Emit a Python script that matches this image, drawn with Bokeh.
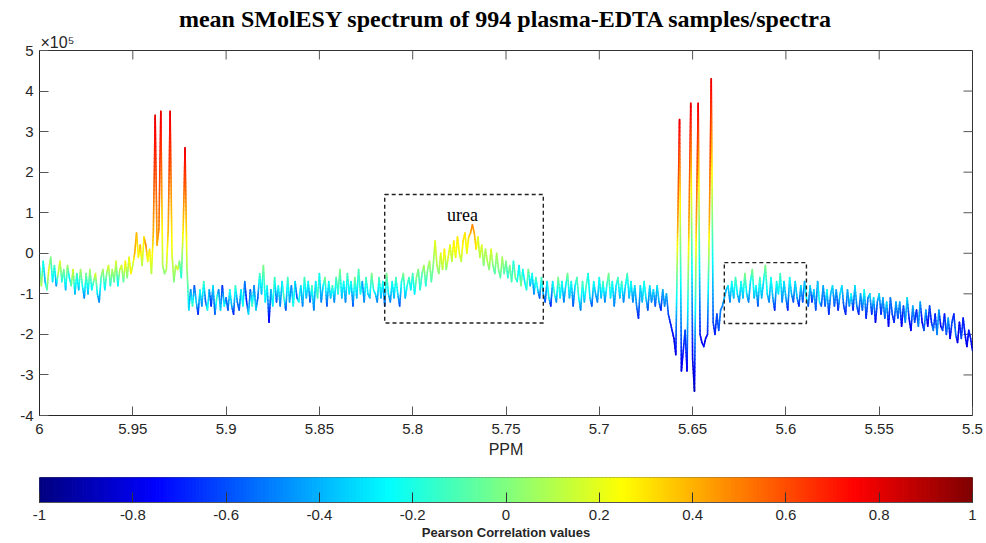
import numpy as np
from bokeh.plotting import figure
from bokeh.models import Range1d, LinearAxis, FixedTicker, Label, ColumnDataSource, Title
from bokeh.layouts import column
from bokeh.embed import file_html
from bokeh.resources import INLINE

# ---------------- data ----------------
ppm_start = 6.0
ppm_step = 0.001   # spectrum sampled every 0.001 ppm from 6.0 down to 5.5

# mean spectrum intensity, in units of 1e4
intensity_1e4 = [
    -3, -8, -2, -7, -9, -4, -1, -7, -3, -8, -5, -2, -7, -4, -9, -3, -6, -8, -4, -10,
    -5, -9, -4, -8, -11, -5, -10, -4, -9, -7, -5, -10, -12, -6, -4, -9, -5, -3, -8, -4,
    -7, -2, -8, -4, -3, -7, -2, -6, -1, -5, -3, 0, 5, -1, 2, -3, 4, 2, -2, 1,
    -5, 5, 34, 2, 6, 35, -3, -5, -4, 6, 35, 0, -7, -3, -4, -2, -6, 6, 26, -3,
    -14, -9, -13, -8, -12, -15, -9, -13, -7, -12, -14, -9, -13, -8, -15, -11, -9, -14, -8, -13,
    -11, -14, -9, -13, -15, -8, -12, -14, -9, -13, -7, -12, -15, -9, -13, -8, -14, -11, -5, -10,
    -3, -12, -8, -17, -9, -13, -6, -12, -8, -13, -7, -11, -14, -6, -12, -8, -13, -7, -11, -12,
    -8, -13, -6, -11, -7, -12, -8, -14, -7, -11, -5, -12, -8, -6, -13, -7, -11, -8, -12, -6,
    -10, -4, -11, -7, -12, -5, -10, -7, -13, -6, -11, -4, -10, -7, -12, -6, -10, -11, -5, -9,
    -10, -12, -6, -11, -7, -13, -5, -10, -12, -7, -11, -6, -10, -13, -7, -5, -11, -8, -6, -9,
    -5, -10, -6, -4, -9, -5, -3, -8, -4, -2, -7, -3, 3, -3, -5, 0, -4, 1, -4, -1,
    2, -2, 3, -1, 4, 0, -2, 3, 5, 0, 4, 5, 7, 5, 1, 4, -1, 2, -3, 1,
    -2, -4, 1, -3, -5, 0, -4, -6, -1, -5, -2, -6, -3, -7, -2, -6, -7, -3, -8, -4,
    -7, -9, -4, -8, -5, -10, -6, -9, -11, -6, -10, -12, -7, -11, -13, -7, -10, -12, -6, -11,
    -7, -12, -8, -5, -11, -7, -13, -8, -6, -11, -14, -7, -12, -8, -5, -11, -13, -7, -10, -12,
    -6, -11, -7, -12, -8, -5, -11, -7, -13, -8, -6, -11, -7, -12, -8, -5, -11, -7, -12, -8,
    -13, -16, -8, -12, -7, -11, -14, -8, -12, -9, -13, -8, -12, -14, -9, -13, -10, -15, -17, -19,
    -21, -25, 6, 33, -29, -24, -19, -29, 6, 37, -26, -34, 7, 37, -20, -22, -23, -21, -20, 8,
    43, -17, -20, -15, -19, -14, -13, -11, -9, -8, -12, -7, -11, -6, -10, -12, -7, -11, -5, -10,
    -12, -7, -4, -11, -8, -13, -6, -11, -7, -3, -10, -12, -6, -11, -14, -7, -10, -5, -12, -7,
    -11, -14, -6, -10, -12, -7, -11, -13, -8, -12, -7, -11, -13, -8, -12, -9, -14, -7, -12, -13,
    -8, -13, -9, -15, -10, -8, -13, -9, -14, -10, -8, -13, -15, -9, -13, -10, -14, -8, -13, -15,
    -10, -14, -9, -16, -11, -10, -15, -11, -17, -12, -10, -15, -11, -16, -12, -18, -11, -15, -17, -12,
    -16, -12, -18, -13, -17, -11, -16, -19, -13, -17, -14, -18, -12, -17, -19, -14, -18, -13, -17, -19,
    -15, -20, -14, -18, -19, -15, -20, -16, -21, -17, -15, -20, -22, -17, -21, -16, -20, -23, -19, -21, -24,
]

# Pearson correlation per point, in tenths
correlation_10 = [
    -3, 1, -2, -4, -1, 2, 0, -3, -1, -5, 1, 2, -2, 0, -4, 1, -3, -1, 2, -4,
    -1, -4, 1, -2, -5, 0, -4, 1, -3, -1, 2, -3, -5, -1, 1, -3, 0, 2, -2, 1,
    -1, 2, -3, 1, 2, -1, 3, 0, 2, 3, 1, 4, 4, 2, 4, 1, 3, 5, 2, 3,
    1, 4, 8, 4, 5, 8, 1, 0, 1, 4, 8, 2, 0, 1, 2, 0, -2, 3, 8, 1,
    -3, -5, -1, -6, -3, -7, -2, -5, -1, -6, -2, -4, -7, -3, -6, -1, -5, -3, -7, -2,
    -5, -6, -2, -4, -7, -1, -5, -6, -3, -2, -5, -7, -3, -6, -1, -5, -3, -6, -1, -4,
    0, -3, -2, -8, -4, -3, -1, -6, -2, -5, -3, -1, -6, -1, -4, -5, -2, -3, -6, -2,
    -3, -5, -1, -4, -2, -6, -1, -5, -3, -1, -2, -5, -3, 0, -6, -2, -4, -1, -5, -1,
    -2, 0, -4, -2, -5, -1, -3, -2, -6, 0, -4, -1, -2, -4, -5, -1, -3, -4, 0, -2,
    -3, -5, -1, -4, -2, -6, 0, -3, -5, -2, -4, -1, -3, -6, -2, 0, -4, -2, -1, -3,
    -1, -3, 0, 0, -2, -1, 1, -2, 0, 1, -1, 0, 2, 1, 0, 2, 1, 3, 0, 2,
    2, 1, 3, 2, 3, 2, 1, 3, 3, 2, 3, 4, 5, 4, 3, 2, 1, 2, 0, 1,
    1, 0, 2, 0, -1, 1, 0, -1, 1, -1, 0, -2, 0, -1, -2, 0, -2, -3, 0, -2,
    -3, -2, 0, -4, -2, -5, -1, -3, -6, -1, -4, -6, -3, -2, -7, -3, -1, -5, 0, -3,
    -2, -5, -3, 0, -4, -2, -6, -3, -1, -2, -5, -1, -4, -1, -2, -3, -6, -2, -4, -5,
    -2, -4, -1, -5, -2, 0, -3, -2, -5, -3, -1, -4, -1, -5, -3, -1, -4, -2, -5, -3,
    -5, -7, -3, -4, -2, -3, -6, -3, -5, -3, -6, -3, -4, -7, -4, -5, -4, -6, -7, -7,
    -8, -8, 4, 8, -8, -7, -6, -8, 4, 8, -8, -9, 4, 8, -7, -8, -7, -8, -7, 4,
    8, -6, -7, -6, -6, -5, -5, -4, -4, -3, -5, -2, -4, -1, -3, -5, -2, -4, 0, -3,
    -5, -3, 0, -4, -2, -6, -1, -4, -3, 0, -3, -5, -2, -4, -7, -2, -3, -1, -5, -3,
    -4, -7, -2, -4, -6, -3, -4, -7, -3, -6, -4, -2, -6, -3, -7, -3, -6, -4, -2, -6,
    -4, -6, -2, -7, -4, -3, -6, -4, -7, -3, -3, -6, -7, -4, -5, -2, -7, -3, -5, -7,
    -4, -6, -2, -7, -5, -3, -7, -3, -8, -5, -3, -7, -4, -6, -3, -8, -5, -6, -7, -4,
    -6, -4, -8, -6, -5, -3, -7, -8, -4, -6, -7, -5, -4, -8, -6, -4, -8, -6, -7, -5,
    -7, -5, -4, -8, -6, -7, -6, -4, -8, -6, -7, -5, -8, -8, -6, -7, -7, -8, -7, -7, -8,
]

x_ticks = [6.0, 5.95, 5.9, 5.85, 5.8, 5.75, 5.7, 5.65, 5.6, 5.55, 5.5]
x_tick_labels = ["6", "5.95", "5.9", "5.85", "5.8", "5.75", "5.7", "5.65", "5.6", "5.55", "5.5"]
y_ticks = [-4, -3, -2, -1, 0, 1, 2, 3, 4, 5]
cb_ticks = [-1, -0.8, -0.6, -0.4, -0.2, 0, 0.2, 0.4, 0.6, 0.8, 1]
cb_tick_labels = ["-1", "-0.8", "-0.6", "-0.4", "-0.2", "0", "0.2", "0.4", "0.6", "0.8", "1"]

# highlighted regions (ppm left, ppm right, bottom, top in 1e5)
box_left = [5.815, 5.633]
box_right = [5.730, 5.589]
box_bottom = [-1.72, -1.73]
box_top = [1.45, -0.23]

title_text = "mean SMolESY spectrum of 994 plasma-EDTA samples/spectra"
exponent_text = "\u00d710\u2075"

# ---------------- helpers ----------------
def jet(t):
    t = min(max(t, 0.0), 1.0)
    r = min(max(1.5 - abs(4 * t - 3), 0), 1)
    g = min(max(1.5 - abs(4 * t - 2), 0), 1)
    b = min(max(1.5 - abs(4 * t - 1), 0), 1)
    return "#%02x%02x%02x" % (int(round(r * 255)), int(round(g * 255)), int(round(b * 255)))

def corr_color(c):
    return jet((c + 1.0) / 2.0)

n = min(len(intensity_1e4), len(correlation_10))
ppm = np.array([round(ppm_start - k * ppm_step, 4) for k in range(n)])
val = np.array(intensity_1e4[:n], dtype=float) / 10.0   # in units of 1e5
cor = np.array(correlation_10[:n], dtype=float) / 10.0

# coloured line: each segment split so colour varies along it
x0s, y0s, x1s, y1s, cols = [], [], [], [], []
px_per_unit = 40.6
for k in range(n - 1):
    xa, xb = ppm[k], ppm[k + 1]
    ya, yb = val[k], val[k + 1]
    ca, cbv = cor[k], cor[k + 1]
    m = max(2, int(np.ceil(abs(yb - ya) * px_per_unit / 4.0)))
    for j in range(m):
        t0, t1 = j / m, (j + 1) / m
        tm = (t0 + t1) / 2
        x0s.append(xa + (xb - xa) * t0)
        x1s.append(xa + (xb - xa) * t1)
        y0s.append(ya + (yb - ya) * t0)
        y1s.append(ya + (yb - ya) * t1)
        cols.append(corr_color(ca + (cbv - ca) * tm))

seg_src = ColumnDataSource(dict(x0=x0s, y0=y0s, x1=x1s, y1=y1s, color=cols))

AX = "#262626"
FONT = "Liberation Sans"

# ---------------- main figure ----------------
p = figure(width=986, height=465, x_range=Range1d(6.0, 5.5), y_range=Range1d(-4, 5),
           output_backend="svg", toolbar_location=None,
           min_border_left=39, min_border_right=14, min_border_top=50, min_border_bottom=50,
           x_axis_location=None, y_axis_location=None)
p.outline_line_color = "#333333"
p.xgrid.visible = False
p.ygrid.visible = False
p.background_fill_color = "white"
p.border_fill_color = "white"

p.title.text = title_text
p.title.text_font = "Liberation Serif"
p.title.text_font_size = "24px"
p.title.text_font_style = "bold"
p.title.align = "center"
p.title.text_color = "black"
p.title.standoff = 0

p.add_layout(Title(text=exponent_text, align="left", text_font=FONT, text_font_size="16px",
                   text_font_style="normal", text_color=AX, standoff=0, offset=1), "above")

def style_axis(ax, ticks, labels):
    ax.ticker = FixedTicker(ticks=ticks)
    ax.major_tick_in = 9
    ax.major_tick_out = 0
    ax.minor_tick_line_color = None
    ax.axis_line_color = AX
    ax.major_tick_line_color = "#555555"
    ax.major_label_text_font = FONT
    ax.major_label_text_color = AX
    ax.major_label_text_font_size = "15px"
    ax.major_label_overrides = {t: l for t, l in zip(ticks, labels)}

xb = LinearAxis()
style_axis(xb, x_ticks, x_tick_labels)
xb.axis_label = "PPM"
xb.axis_label_text_font = FONT
xb.axis_label_text_font_size = "16px"
xb.axis_label_text_font_style = "normal"
xb.axis_label_text_color = AX
xb.axis_label_standoff = 4
xb.major_label_standoff = 8
p.add_layout(xb, "below")

yl = LinearAxis()
style_axis(yl, y_ticks, [str(t) for t in y_ticks])
yl.major_label_standoff = 6
p.add_layout(yl, "left")

# box ticks on top and right edges (half of each dash is clipped by the frame)
p.scatter(x=x_ticks[1:-1], y=[y_ticks[-1]] * (len(x_ticks) - 2), marker="dash", size=18,
          angle=np.pi / 2, line_color="#555555", line_width=1)
p.scatter(x=[x_ticks[-1]] * (len(y_ticks) - 2), y=y_ticks[1:-1], marker="dash", size=18,
          angle=0, line_color="#555555", line_width=1)

p.segment(x0="x0", y0="y0", x1="x1", y1="y1", color="color", line_width=1.6,
          line_cap="round", source=seg_src)

p.quad(left=box_left, right=box_right, bottom=box_bottom, top=box_top,
       fill_alpha=0, line_color="#222222", line_width=1.4, line_dash="4 3")

p.add_layout(Label(x=5.7733, y=0.94, text="urea", text_font="Liberation Serif",
                   text_font_size="18px", text_align="center", text_baseline="middle",
                   text_color="black"))

# ---------------- colour bar figure ----------------
cbf = figure(width=986, height=78, x_range=Range1d(-1, 1), y_range=Range1d(0, 1),
             output_backend="svg", toolbar_location=None,
             min_border_left=39, min_border_right=14, min_border_top=12, min_border_bottom=41,
             x_axis_location=None, y_axis_location=None)
cbf.xgrid.visible = False
cbf.ygrid.visible = False
cbf.outline_line_color = "#555555"
cbf.border_fill_color = "white"

edges = np.linspace(-1, 1, 257)
cell_colors = [corr_color((a + b) / 2) for a, b in zip(edges[:-1], edges[1:])]
cbf.quad(left=edges[:-1], right=edges[1:], bottom=0, top=1,
         fill_color=cell_colors, line_color=cell_colors, line_width=1)

cax = LinearAxis()
style_axis(cax, cb_ticks, cb_tick_labels)
cax.major_tick_in = 10
cax.major_label_standoff = 7
cax.axis_line_color = "#555555"
cax.major_tick_line_color = "#333333"
cax.axis_label = "Pearson Correlation values"
cax.axis_label_text_font = FONT
cax.axis_label_text_font_size = "13px"
cax.axis_label_text_font_style = "bold"
cax.axis_label_text_color = AX
cax.axis_label_standoff = 2
cbf.add_layout(cax, "below")

layout = column(p, cbf, spacing=0)
open("out.html", "w").write(file_html(layout, INLINE))
